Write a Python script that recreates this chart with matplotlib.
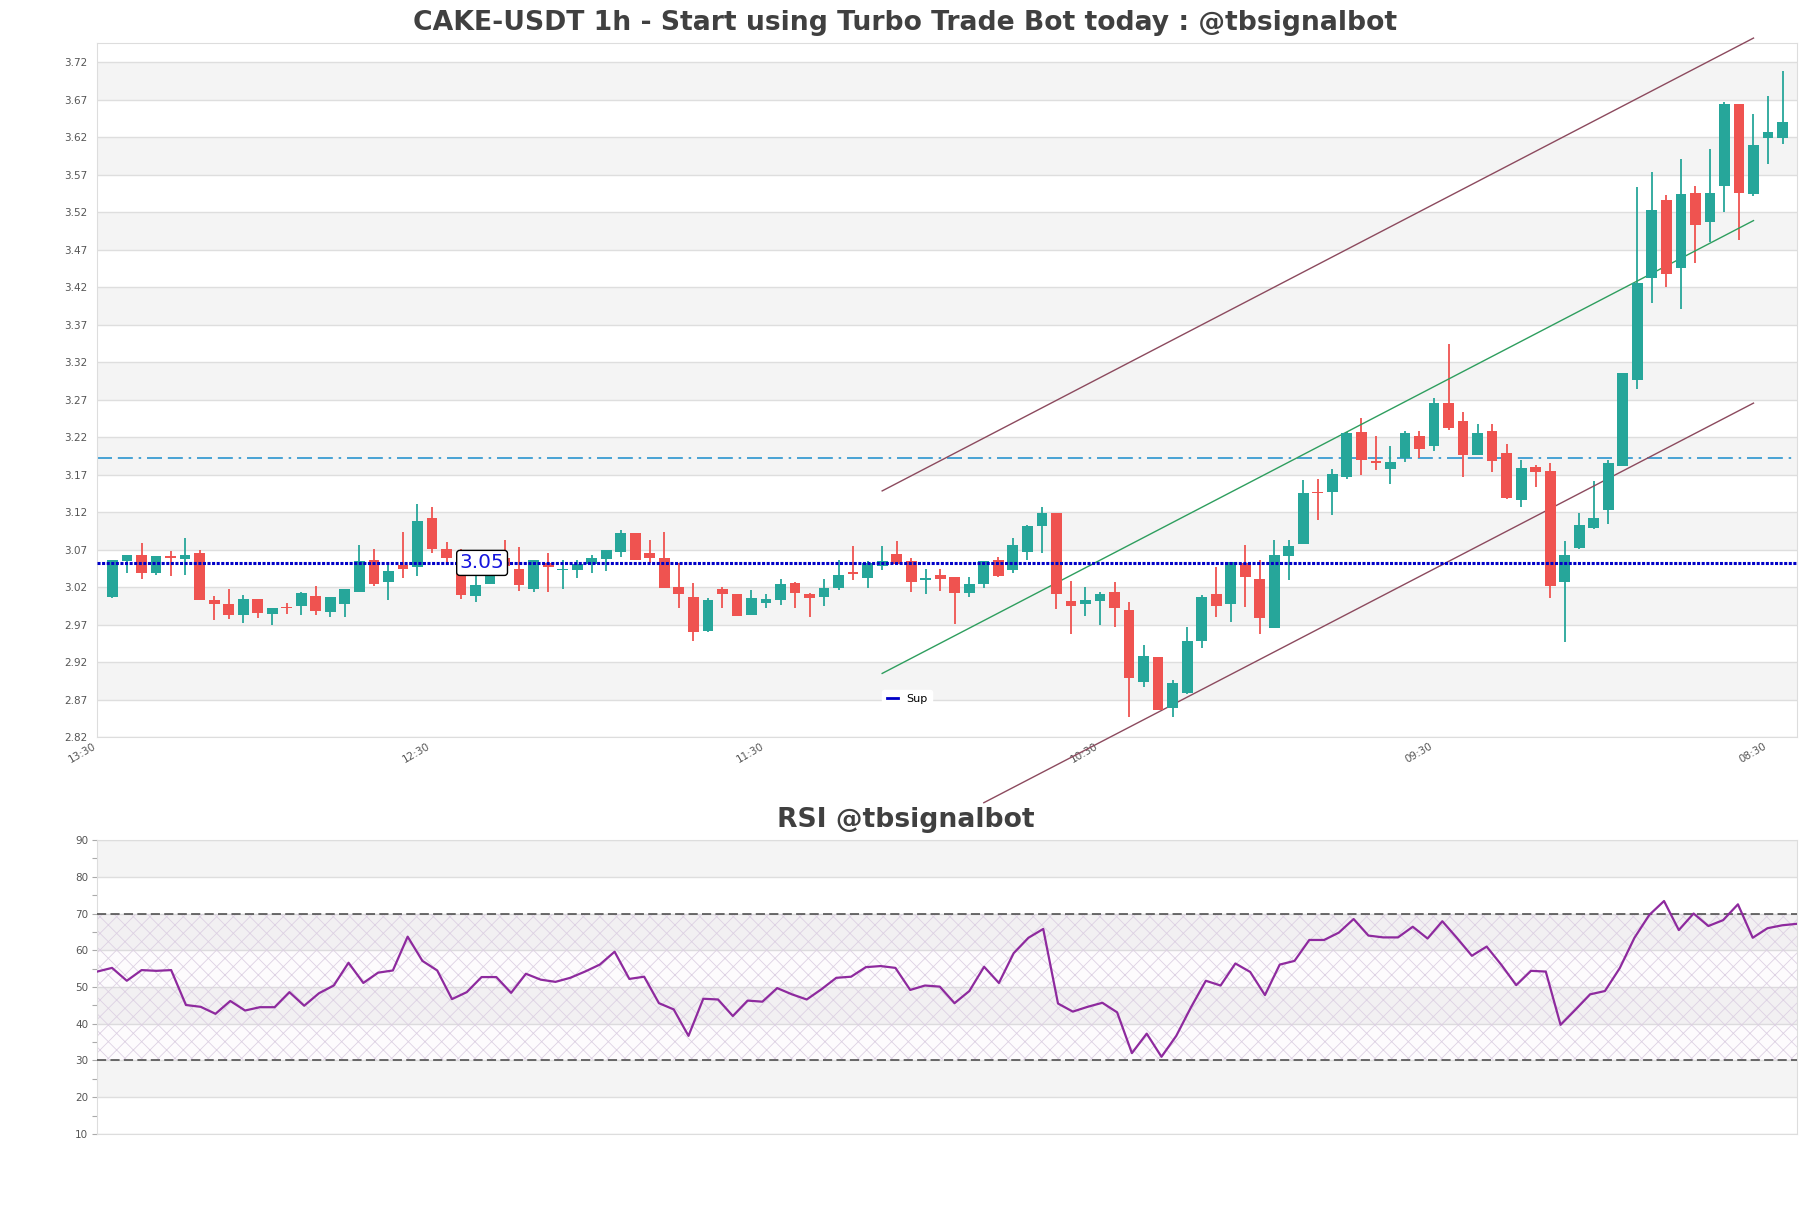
import matplotlib
matplotlib.use("Agg")
import matplotlib.pyplot as plt
from matplotlib.lines import Line2D
import numpy as np

# candle data (1h)
opens = [3.0072, 3.0545, 3.0625, 3.0390, 3.0620, 3.0576, 3.0651, 3.0036, 2.9974, 2.9833,
         3.0041, 2.9846, 2.9939, 2.9952, 3.0080, 2.9873, 2.9979, 3.0138, 3.0558, 3.0271,
         3.0492, 3.0470, 3.1129, 3.0704, 3.0594, 3.0085, 3.0244, 3.0594, 3.0439, 3.0182,
         3.0519, 3.0430, 3.0434, 3.0510, 3.0576, 3.0673, 3.0921, 3.0651, 3.0585, 3.0200,
         3.0067, 2.9616, 3.0173, 3.0107, 2.9833, 2.9992, 3.0032, 3.0262, 3.0116, 3.0072,
         3.0191, 3.0399, 3.0324, 3.0483, 3.0638, 3.0545, 3.0297, 3.0359, 3.0333, 3.0125,
         3.0244, 3.0558, 3.0434, 3.0673, 3.1021, 3.1190, 3.0016, 2.9981, 3.0021, 3.0137,
         2.9897, 2.8940, 2.9270, 2.8594, 2.8789, 2.9488, 3.0110, 2.9981, 3.0528, 3.0310,
         2.9661, 3.0621, 3.0781, 3.1470, 3.1475, 3.1675, 3.2266, 3.1880, 3.1782, 3.1928,
         3.2213, 3.2088, 3.2657, 3.2413, 3.1968, 3.2284, 3.1986, 3.1368, 3.1804, 3.1751,
         3.0275, 3.0723, 3.0997, 3.1224, 3.1820, 3.2970, 3.4330, 3.5364, 3.4452, 3.5459,
         3.5074, 3.5554, 3.6646, 3.5449, 3.6197, 3.6197]
highs = [3.0558, 3.0625, 3.0784, 3.0612, 3.0678, 3.0860, 3.0700, 3.0089, 3.0173, 3.0094,
         3.0045, 2.9921, 2.9996, 3.0134, 3.0213, 3.0067, 3.0173, 3.0758, 3.0713, 3.0505,
         3.0935, 3.1315, 3.1275, 3.0806, 3.0704, 3.0417, 3.0450, 3.0837, 3.0731, 3.0558,
         3.0651, 3.0558, 3.0558, 3.0634, 3.0695, 3.0970, 3.0921, 3.0837, 3.0935, 3.0519,
         3.0262, 3.0061, 3.0209, 3.0107, 3.0160, 3.0116, 3.0306, 3.0275, 3.0129, 3.0306,
         3.0563, 3.0744, 3.0550, 3.0744, 3.0811, 3.0585, 3.0439, 3.0439, 3.0342, 3.0342,
         3.0545, 3.0607, 3.0859, 3.1036, 3.1270, 3.1190, 3.0279, 3.0199, 3.0137, 3.0270,
         3.0008, 2.9430, 2.9270, 2.8963, 2.9670, 3.0101, 3.0470, 3.0537, 3.0763, 3.0559,
         3.0826, 3.0826, 3.1630, 3.1644, 3.1773, 3.2275, 3.2453, 3.2217, 3.2080, 3.2284,
         3.2284, 3.2720, 3.3444, 3.2533, 3.2373, 3.2373, 3.2106, 3.1897, 3.1831, 3.1853,
         3.0821, 3.1187, 3.1620, 3.1899, 3.3059, 3.5538, 3.5744, 3.5433, 3.5913, 3.5549,
         3.6050, 3.6677, 3.6646, 3.6514, 3.6751, 3.7083]
lows = [3.0060, 3.0395, 3.0315, 3.0360, 3.0355, 3.0364, 3.0030, 2.9762, 2.9775, 2.9727,
        2.9793, 2.9700, 2.9846, 2.9828, 2.9828, 2.9806, 2.9806, 3.0138, 3.0218, 3.0032,
        3.0324, 3.0350, 3.0651, 3.0519, 3.0041, 3.0005, 3.0244, 3.0350, 3.0151, 3.0142,
        3.0142, 3.0182, 3.0324, 3.0390, 3.0417, 3.0603, 3.0563, 3.0519, 3.0191, 2.9919,
        2.9488, 2.9598, 2.9926, 2.9819, 2.9833, 2.9917, 2.9965, 2.9919, 2.9806, 2.9952,
        3.0165, 3.0297, 3.0191, 3.0430, 3.0505, 3.0142, 3.0112, 3.0151, 2.9709, 3.0072,
        3.0191, 3.0337, 3.0390, 3.0558, 3.0660, 2.9914, 2.9581, 2.9821, 2.9696, 2.9674,
        2.8474, 2.8865, 2.8567, 2.8474, 2.8772, 2.9385, 2.9807, 2.9741, 2.9941, 2.9581,
        2.9661, 3.0297, 3.0781, 3.1101, 3.1168, 3.1640, 3.1702, 3.1768, 3.1582, 3.1866,
        3.1928, 3.2013, 3.2297, 3.1675, 3.1968, 3.1742, 3.1377, 3.1275, 3.1542, 3.0061,
        2.9474, 3.0712, 3.0976, 3.1040, 3.1820, 3.2843, 3.3993, 3.4204, 3.3914, 3.4531,
        3.4800, 3.5206, 3.4837, 3.5417, 3.5844, 3.6118]
closes = [3.0558, 3.0625, 3.0390, 3.0612, 3.0590, 3.0625, 3.0032, 2.9979, 2.9833, 3.0041,
          2.9859, 2.9921, 2.9917, 3.0120, 2.9886, 3.0067, 3.0173, 3.0545, 3.0244, 3.0412,
          3.0448, 3.1089, 3.0704, 3.0589, 3.0103, 3.0227, 3.0439, 3.0483, 3.0231, 3.0558,
          3.0470, 3.0439, 3.0505, 3.0594, 3.0691, 3.0921, 3.0563, 3.0589, 3.0191, 3.0112,
          2.9607, 3.0035, 3.0112, 2.9819, 3.0054, 3.0041, 3.0249, 3.0125, 3.0058, 3.0196,
          3.0368, 3.0373, 3.0519, 3.0545, 3.0505, 3.0271, 3.0319, 3.0311, 3.0125, 3.0249,
          3.0545, 3.0350, 3.0758, 3.1023, 3.1190, 3.0114, 2.9954, 3.0030, 3.0110, 2.9923,
          2.8994, 2.9283, 2.8567, 2.8923, 2.9483, 3.0070, 2.9954, 3.0537, 3.0341, 2.9794,
          3.0630, 3.0750, 3.1452, 3.1452, 3.1706, 3.2257, 3.1902, 3.1862, 3.1866, 3.2253,
          3.2040, 3.2657, 3.2328, 3.1968, 3.2253, 3.1888, 3.1395, 3.1791, 3.1742, 3.0221,
          3.0626, 3.1029, 3.1129, 3.1852, 3.3059, 3.4257, 3.5232, 3.4383, 3.5443, 3.5037,
          3.5459, 3.6646, 3.5454, 3.6097, 3.6271, 3.6403]

rsi = [54.2, 55.2, 51.7, 54.6, 54.4, 54.6, 45.1, 44.6, 42.7, 46.2,
       43.6, 44.5, 44.5, 48.6, 44.9, 48.3, 50.4, 56.6, 51.1, 53.9,
       54.5, 63.7, 57.1, 54.5, 46.7, 48.6, 52.7, 52.7, 48.4, 53.6,
       52.0, 51.4, 52.5, 54.2, 56.1, 59.6, 52.2, 52.8, 45.6, 43.9,
       36.7, 46.8, 46.6, 42.1, 46.3, 46.0, 49.7, 48.0, 46.6, 49.4,
       52.5, 52.8, 55.4, 55.7, 55.2, 49.2, 50.4, 50.1, 45.6, 48.9,
       55.5, 51.1, 59.2, 63.4, 65.8, 45.5, 43.3, 44.6, 45.7, 43.1,
       32.0, 37.3, 31.0, 36.7, 44.5, 51.7, 50.4, 56.4, 54.1, 47.8,
       56.1, 57.1, 62.8, 62.8, 64.8, 68.5, 64.0, 63.5, 63.5, 66.4,
       63.2, 67.9, 63.3, 58.5, 61.0, 56.0, 50.5, 54.4, 54.2, 39.7,
       43.8, 48.0, 48.9, 55.1, 63.4, 69.6, 73.4, 65.5, 70.0, 66.6,
       68.2, 72.5, 63.4, 66.0, 66.8, 67.2]

tick_pos = [-1, 22, 45, 68, 91, 114]
tick_labels = ["13:30", "12:30", "11:30", "10:30", "09:30", "08:30"]

support = 3.0525
resistance = 3.192

# price channel (start/end candle index and prices)
chan_upper_x, chan_upper_y = [53, 113], [3.1485, 3.7524]
chan_mid_x, chan_mid_y = [53, 113], [2.9051, 3.5090]
chan_lower_x, chan_lower_y = [60, 113], [2.7327, 3.2656]

GREEN = "#26a69a"
RED = "#ef5350"
BAND = "#f4f4f4"
GRID = "#dedede"
TXT = "#555555"

plt.rcParams["hatch.linewidth"] = 0.6

fig = plt.figure(figsize=(18.11, 12.08), dpi=100)
ax = fig.add_axes([0.0537, 0.3897, 0.9386, 0.5745])
ax2 = fig.add_axes([0.0537, 0.0613, 0.9386, 0.2433])

# ---- price panel ----
o = np.array(opens)
h = np.array(highs)
l = np.array(lows)
c = np.array(closes)
x = np.arange(len(o))
up = c >= o
cols = np.where(up, GREEN, RED)

ymin, ymax = 2.82, 3.7455
yt = np.round(np.arange(2.82, 3.73, 0.05), 2)
for v in yt:
    if round((v - 2.87) / 0.1, 3) % 1 == 0:
        ax.axhspan(v, v + 0.05, color=BAND, zorder=0, lw=0)

ax.vlines(x, l, h, colors=cols, lw=1.3, zorder=3)
body_lo = np.minimum(o, c)
body_h = np.maximum(np.abs(c - o), 0.0008)
ax.bar(x, body_h, bottom=body_lo, width=0.74, color=cols, lw=0, zorder=4)

ax.axhline(resistance, color="#2a95cf", lw=1.2, dashes=(9, 3.5, 9, 3.5, 1.5, 3.5), zorder=2)
ax.axhline(support, color="#0000c8", lw=2.2, ls=(0, (1, 0.5)), zorder=5)

for xs, ys, col in [(chan_upper_x, chan_upper_y, "#8c4a5e"),
                    (chan_mid_x, chan_mid_y, "#2e9e5e"),
                    (chan_lower_x, chan_lower_y, "#8c4a5e")]:
    ax.plot(xs, ys, color=col, lw=1.0, clip_on=False, zorder=3)

ax.text(25.45, support, f"{support:.2f}", ha="center", va="center", fontsize=14.5,
        color="#1515dd", zorder=6,
        bbox=dict(boxstyle="round,pad=0.15", fc="white", ec="black", lw=1))

leg = ax.legend(handles=[Line2D([], [], color="#0000c8", lw=2)], labels=["Sup"],
                loc="lower left", bbox_to_anchor=(0.4585, 0.033), fontsize=8,
                handlelength=1, frameon=True, edgecolor="white", fancybox=True)
leg.get_frame().set_facecolor("white")
leg.get_frame().set_alpha(1)

ax.set_xlim(-1.05, 116.0)
ax.set_ylim(ymin, ymax)
ax.set_yticks(yt)
ax.set_yticklabels([f"{v:.2f}" for v in yt])
ax.set_xticks(tick_pos)
ax.set_xticklabels(tick_labels, rotation=30, ha="right")
ax.yaxis.grid(True, color=GRID, lw=1)
ax.set_axisbelow(True)
ax.tick_params(axis="y", length=0, pad=7, labelsize=7.5, labelcolor=TXT)
ax.tick_params(axis="x", length=0, pad=3, labelsize=7.5, labelcolor=TXT)
for s in ax.spines.values():
    s.set_color("#dddddd")

# ---- RSI panel ----
xr = np.arange(len(rsi))
for lo_b in [20, 40, 60, 80]:
    ax2.axhspan(lo_b, lo_b + 10, color=BAND, zorder=0, lw=0)
ax2.fill_between([xr[0], xr[-1]], 30, 70, facecolor=(0.6, 0.3, 0.7, 0.02),
                 edgecolor="#ddd1e3", hatch="xx", lw=0, zorder=1)
ax2.axhline(70, color="#444444", lw=1.1, dashes=(6, 2.8), zorder=3)
ax2.axhline(30, color="#444444", lw=1.1, dashes=(6, 2.8), zorder=3)
ax2.plot(xr, rsi, color="#8e2a9e", lw=1.6, zorder=4)

ax2.set_xlim(xr[0], xr[-1])
ax2.set_ylim(10, 90)
ax2.set_yticks(np.arange(10, 91, 10))
ax2.set_yticks(np.arange(15, 90, 10), minor=True)
ax2.yaxis.grid(True, color=GRID, lw=1)
ax2.set_axisbelow(True)
ax2.set_xticks([])
ax2.tick_params(axis="y", which="both", length=3.5, width=0.8, color="#aaaaaa",
                pad=3, labelsize=7.5, labelcolor=TXT)
for s in ax2.spines.values():
    s.set_color("#dddddd")

fig.text(0.5, 1 - 23 / 1208, "CAKE-USDT 1h - Start using Turbo Trade Bot today : @tbsignalbot",
         ha="center", va="center", fontsize=19.2, fontweight="bold", color="#404040")
fig.text(0.5, 1 - 820 / 1208, "RSI @tbsignalbot",
         ha="center", va="center", fontsize=19.2, fontweight="bold", color="#404040")

fig.savefig("out.png", dpi=100)
